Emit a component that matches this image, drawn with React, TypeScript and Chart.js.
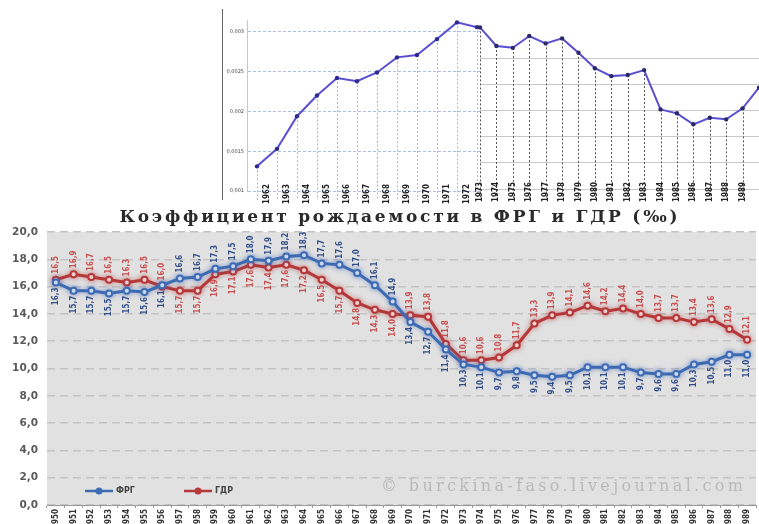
import React, { useEffect, useRef } from 'react';
import { Chart, registerables } from 'chart.js';

Chart.register(...registerables);

// ---------- data ----------
const chartTitle = 'Коэффициент рождаемости в ФРГ и ГДР (‰)';
const watermarkText = '© burckina-faso.livejournal.com';
const seriesNames = ['ФРГ', 'ГДР'];

const years = [
  '1950', '1951', '1952', '1953', '1954', '1955', '1956', '1957', '1958', '1959',
  '1960', '1961', '1962', '1963', '1964', '1965', '1966', '1967', '1968', '1969',
  '1970', '1971', '1972', '1973', '1974', '1975', '1976', '1977', '1978', '1979',
  '1980', '1981', '1982', '1983', '1984', '1985', '1986', '1987', '1988', '1989',
];

const frgRates = [
  16.3, 15.7, 15.7, 15.5, 15.7, 15.6, 16.1, 16.6, 16.7, 17.3,
  17.5, 18.0, 17.9, 18.2, 18.3, 17.7, 17.6, 17.0, 16.1, 14.9,
  13.4, 12.7, 11.4, 10.3, 10.1, 9.7, 9.8, 9.5, 9.4, 9.5,
  10.1, 10.1, 10.1, 9.7, 9.6, 9.6, 10.3, 10.5, 11.0, 11.0,
];

const gdrRates = [
  16.5, 16.9, 16.7, 16.5, 16.3, 16.5, 16.0, 15.7, 15.7, 16.9,
  17.1, 17.6, 17.4, 17.6, 17.2, 16.5, 15.7, 14.8, 14.3, 14.0,
  13.9, 13.8, 11.8, 10.6, 10.6, 10.8, 11.7, 13.3, 13.9, 14.1,
  14.6, 14.2, 14.4, 14.0, 13.7, 13.7, 13.4, 13.6, 12.9, 12.1,
];

// inset (top) chart, left part
const topYearsLeft = ['1962', '1963', '1964', '1965', '1966', '1967', '1968', '1969', '1970', '1971', '1972', '1973'];
const topValuesLeft = [0.00131, 0.00153, 0.00194, 0.0022, 0.00242, 0.00238, 0.00249, 0.00268, 0.00271, 0.00291, 0.00312, 0.00306];

// inset (top) chart, right part (own index scale)
const topYearsRight = ['1973', '1974', '1975', '1976', '1977', '1978', '1979', '1980', '1981', '1982', '1983', '1984', '1985', '1986', '1987', '1988', '1989', '1990'];
const topValuesRight = [6.17, 5.46, 5.39, 5.84, 5.56, 5.75, 5.2, 4.61, 4.31, 4.35, 4.54, 3.04, 2.89, 2.47, 2.72, 2.66, 3.08, 3.87];

// ---------- styles ----------
const FONT_SANS = '"DejaVu Sans", "Liberation Sans", sans-serif';
const FONT_NARROW = '"Liberation Sans Narrow", "DejaVu Sans Condensed", "Liberation Sans", sans-serif';
const FONT_SERIF = '"DejaVu Serif", "Liberation Serif", serif';
const BLUE = '#3e6cb4';
const RED = '#b6393a';
const BLUE_LABEL = '#34508a';
const RED_LABEL = '#c9504f';

const fmt1 = (v: number) => v.toFixed(1).replace('.', ',');
const fmtSmall = (v: number) => Number(v).toFixed(4).replace(/0+$/, '').replace('.', ',');

function drawSpaced(ctx: CanvasRenderingContext2D, text: string, font: string, targetW: number, x: number, y: number, align: 'center' | 'left') {
  ctx.font = font;
  (ctx as any).letterSpacing = '0px';
  const w0 = ctx.measureText(text).width;
  const ls = Math.max(0, Math.min(5, (targetW - w0) / (text.length - 1)));
  (ctx as any).letterSpacing = ls + 'px';
  const total = w0 + ls * (text.length - 1);
  ctx.textAlign = 'left';
  ctx.textBaseline = 'middle';
  const sx = align === 'center' ? x - total / 2 : x;
  ctx.fillText(text, sx, y);
  (ctx as any).letterSpacing = '0px';
}

const mainDecor = {
  id: 'mainDecor',
  beforeDraw(chart: any) {
    const { ctx, chartArea: a } = chart;
    ctx.save();
    ctx.fillStyle = '#e1e1e1';
    ctx.fillRect(a.left, a.top, a.right - a.left, a.bottom - a.top);
    ctx.restore();
  },
  beforeDatasetDraw(chart: any, args: any) {
    const ctx = chart.ctx;
    ctx.save();
    ctx.shadowColor = args.index === 0 ? 'rgba(70,110,190,0.55)' : 'rgba(190,60,60,0.5)';
    ctx.shadowBlur = 5;
  },
  afterDatasetDraw(chart: any) {
    chart.ctx.restore();
  },
  afterDatasetsDraw(chart: any) {
    const { ctx, chartArea: a } = chart;
    const blue = chart.getDatasetMeta(0).data;
    const red = chart.getDatasetMeta(1).data;
    ctx.save();
    ctx.font = `bold 8px ${FONT_NARROW}`;
    ctx.textBaseline = 'middle';
    years.forEach((_, i) => {
      const blueAbove = frgRates[i] - gdrRates[i] > 0.15;
      const items = [
        { p: blue[i], v: frgRates[i], above: blueAbove, c: BLUE_LABEL },
        { p: red[i], v: gdrRates[i], above: !blueAbove, c: RED_LABEL },
      ];
      items.forEach(({ p, v, above, c }) => {
        ctx.save();
        ctx.fillStyle = c;
        ctx.translate(p.x, above ? p.y - 6 : p.y + 5);
        ctx.rotate(-Math.PI / 2);
        ctx.textAlign = above ? 'left' : 'right';
        ctx.fillText(fmt1(v), 0, 0);
        ctx.restore();
      });
    });
    ctx.restore();

    // watermark
    ctx.save();
    ctx.fillStyle = '#b9b9b9';
    drawSpaced(ctx, watermarkText, `16px ${FONT_SERIF}`, 362, a.left + 334, a.bottom - 18, 'left');
    ctx.restore();

    // legend
    ctx.save();
    const ly = a.bottom - 14;
    const entries = [
      { x: a.left + 38, color: BLUE, name: seriesNames[0] },
      { x: a.left + 137, color: RED, name: seriesNames[1] },
    ];
    entries.forEach(({ x, color, name }) => {
      ctx.strokeStyle = color;
      ctx.lineWidth = 2.5;
      ctx.beginPath();
      ctx.moveTo(x, ly);
      ctx.lineTo(x + 28, ly);
      ctx.stroke();
      ctx.fillStyle = color;
      ctx.beginPath();
      ctx.arc(x + 14, ly, 3.5, 0, Math.PI * 2);
      ctx.fill();
      ctx.fillStyle = '#444';
      ctx.font = `bold 8px ${FONT_SANS}`;
      ctx.textAlign = 'left';
      ctx.textBaseline = 'middle';
      ctx.fillText(name, x + 31, ly);
    });
    ctx.restore();
  },
  afterDraw(chart: any) {
    const { ctx, chartArea: a } = chart;
    ctx.save();
    ctx.fillStyle = '#2a2a2a';
    drawSpaced(ctx, chartTitle, `bold 17px ${FONT_SERIF}`, 558, (a.left + a.right) / 2 - 3, 13, 'center');
    ctx.restore();
  },
};

// drop lines from each point to the axis + year labels drawn across the axis line
const insetDecor = (id: string, color: string, labels: string[], labelShift: number, skipLast: boolean) => ({
  id,
  beforeDatasetsDraw(chart: any) {
    const { ctx, chartArea: a } = chart;
    const pts = chart.getDatasetMeta(0).data;
    ctx.save();
    ctx.strokeStyle = color;
    ctx.lineWidth = 1;
    ctx.setLineDash([2, 2]);
    pts.forEach((p: any) => {
      ctx.beginPath();
      ctx.moveTo(Math.round(p.x) + 0.5, p.y);
      ctx.lineTo(Math.round(p.x) + 0.5, a.bottom + 9);
      ctx.stroke();
    });
    ctx.restore();
  },
  afterDraw(chart: any) {
    const { ctx, chartArea: a } = chart;
    const xs = chart.scales.x;
    ctx.save();
    ctx.font = `bold 8px ${FONT_NARROW}`;
    ctx.fillStyle = '#222';
    ctx.textAlign = 'right';
    ctx.textBaseline = 'middle';
    labels.forEach((lab, i) => {
      if (skipLast && i === labels.length - 1) return;
      ctx.save();
      ctx.translate(xs.getPixelForTick(i) + labelShift, a.bottom - 7);
      ctx.rotate(-Math.PI / 2);
      ctx.fillText(lab, 0, 0);
      ctx.restore();
    });
    ctx.restore();
  },
});

function mainConfig(): any {
  return {
    type: 'line',
    data: {
      labels: years,
      datasets: [
        {
          label: seriesNames[0], data: frgRates, borderColor: BLUE, borderWidth: 3, tension: 0,
          pointRadius: 3, pointBackgroundColor: '#ffffff', pointBorderColor: BLUE, pointBorderWidth: 2,
        },
        {
          label: seriesNames[1], data: gdrRates, borderColor: RED, borderWidth: 3, tension: 0,
          pointRadius: 3, pointBackgroundColor: '#ffffff', pointBorderColor: RED, pointBorderWidth: 2,
        },
      ],
    },
    options: {
      responsive: false, animation: false, events: [], devicePixelRatio: 1,
      layout: { padding: { top: 27, left: 0, right: 0, bottom: 0 } },
      plugins: { legend: { display: false }, tooltip: { enabled: false }, title: { display: false } },
      scales: {
        x: {
          type: 'category', offset: true,
          grid: { offset: true, drawOnChartArea: false, drawTicks: true, tickLength: 3, color: '#9a9a9a' },
          border: { display: true, color: '#9a9a9a' },
          ticks: { autoSkip: false, minRotation: 90, maxRotation: 90, padding: 1, color: '#333', font: { size: 8, weight: 'bold', family: FONT_NARROW } },
          afterFit(s: any) { s.height = 19; s.paddingLeft = 0; s.paddingRight = 0; },
        },
        y: {
          min: 0, max: 20,
          ticks: { stepSize: 2, padding: 9, color: '#5a5a5a', font: { size: 10.5, weight: 'bold', family: FONT_SANS }, callback: (v: any) => fmt1(Number(v)) },
          grid: { color: '#c3c3c3', lineWidth: 1.5, drawTicks: false },
          border: { display: false, dash: [8, 5] },
          afterFit(s: any) { s.width = 47; s.paddingTop = 0; s.paddingBottom = 0; },
        },
      },
    },
    plugins: [mainDecor],
  };
}

function topLeftConfig(): any {
  return {
    type: 'line',
    data: {
      labels: topYearsLeft,
      datasets: [{ data: topValuesLeft, borderColor: '#5a4fd1', borderWidth: 2, tension: 0, pointRadius: 2.2, pointBackgroundColor: '#2f2a8f', pointBorderWidth: 0 }],
    },
    options: {
      responsive: false, animation: false, events: [], devicePixelRatio: 1,
      layout: { padding: { top: 20, left: 0, right: 0, bottom: 0 } },
      plugins: { legend: { display: false }, tooltip: { enabled: false } },
      scales: {
        x: {
          type: 'category', offset: true,
          grid: { display: false, drawTicks: false }, border: { display: false },
          ticks: { display: false, autoSkip: false },
          afterFit(s: any) { s.height = 14; s.paddingLeft = 0; s.paddingRight = 0; },
        },
        y: {
          min: 0.001, max: 0.00315,
          ticks: { stepSize: 0.0005, padding: 3, color: '#444', font: { size: 5, family: FONT_SANS }, callback: (v: any) => fmtSmall(Number(v)) },
          grid: { color: '#a9c0e6', drawTicks: false },
          border: { display: true, color: '#c8c8c8', dash: [3, 2] },
          afterBuildTicks(s: any) { s.ticks = s.ticks.filter((t: any) => t.value <= 0.0030001); },
          afterFit(s: any) { s.width = 29; s.paddingTop = 0; s.paddingBottom = 0; },
        },
      },
    },
    plugins: [insetDecor('insetLeft', '#9fb6e0', topYearsLeft, 10, false)],
  };
}

function topRightConfig(): any {
  return {
    type: 'line',
    data: {
      labels: topYearsRight,
      datasets: [{ data: topValuesRight, borderColor: '#5a4fd1', borderWidth: 2, tension: 0, pointRadius: 2.2, pointBackgroundColor: '#2a2a6a', pointBorderWidth: 0 }],
    },
    options: {
      responsive: false, animation: false, events: [], devicePixelRatio: 1,
      layout: { padding: { top: 24, left: 0, right: 0, bottom: 0 } },
      plugins: { legend: { display: false }, tooltip: { enabled: false } },
      scales: {
        x: {
          type: 'category', offset: false,
          grid: { display: false, drawTicks: false }, border: { display: false },
          ticks: { display: false, autoSkip: false },
          afterFit(s: any) { s.height = 16; s.paddingLeft = 0; s.paddingRight = 0; },
        },
        y: {
          min: 0, max: 6.3,
          ticks: { display: false, stepSize: 1 },
          grid: { color: '#c8c8c8', drawTicks: false },
          border: { display: false },
          afterBuildTicks(s: any) { s.ticks = s.ticks.filter((t: any) => t.value <= 6.0001); },
          afterFit(s: any) { s.width = 10; s.paddingTop = 0; s.paddingBottom = 0; },
        },
      },
    },
    plugins: [insetDecor('insetRight', '#555555', topYearsRight, 0, true)],
  };
}

export default function App() {
  const mainRef = useRef<HTMLCanvasElement>(null);
  const leftRef = useRef<HTMLCanvasElement>(null);
  const rightRef = useRef<HTMLCanvasElement>(null);

  useEffect(() => {
    const charts: Chart[] = [];
    if (leftRef.current) charts.push(new Chart(leftRef.current, topLeftConfig()));
    if (rightRef.current) charts.push(new Chart(rightRef.current, topRightConfig()));
    if (mainRef.current) charts.push(new Chart(mainRef.current, mainConfig()));
    return () => charts.forEach((c) => c.destroy());
  }, []);

  return (
    <div style={{ position: 'absolute', left: 0, top: 0, width: 759, height: 524, overflow: 'hidden', background: '#ffffff' }}>
      <div style={{ position: 'absolute', left: 222, top: 9, width: 1, height: 191, background: '#666' }} />
      <div style={{ position: 'absolute', left: 218, top: 0, width: 262, height: 205, overflow: 'hidden' }}>
        <canvas ref={leftRef} width={273} height={205} style={{ display: 'block', width: 273, height: 205 }} />
      </div>
      <div style={{ position: 'absolute', left: 470, top: 0, width: 289, height: 205, overflow: 'hidden' }}>
        <canvas ref={rightRef} width={293} height={205} style={{ display: 'block', width: 293, height: 205 }} />
      </div>
      <div style={{ position: 'absolute', left: 0, top: 205, width: 759, height: 319, overflow: 'hidden' }}>
        <canvas ref={mainRef} width={762} height={319} style={{ display: 'block', width: 762, height: 319 }} />
      </div>
    </div>
  );
}
